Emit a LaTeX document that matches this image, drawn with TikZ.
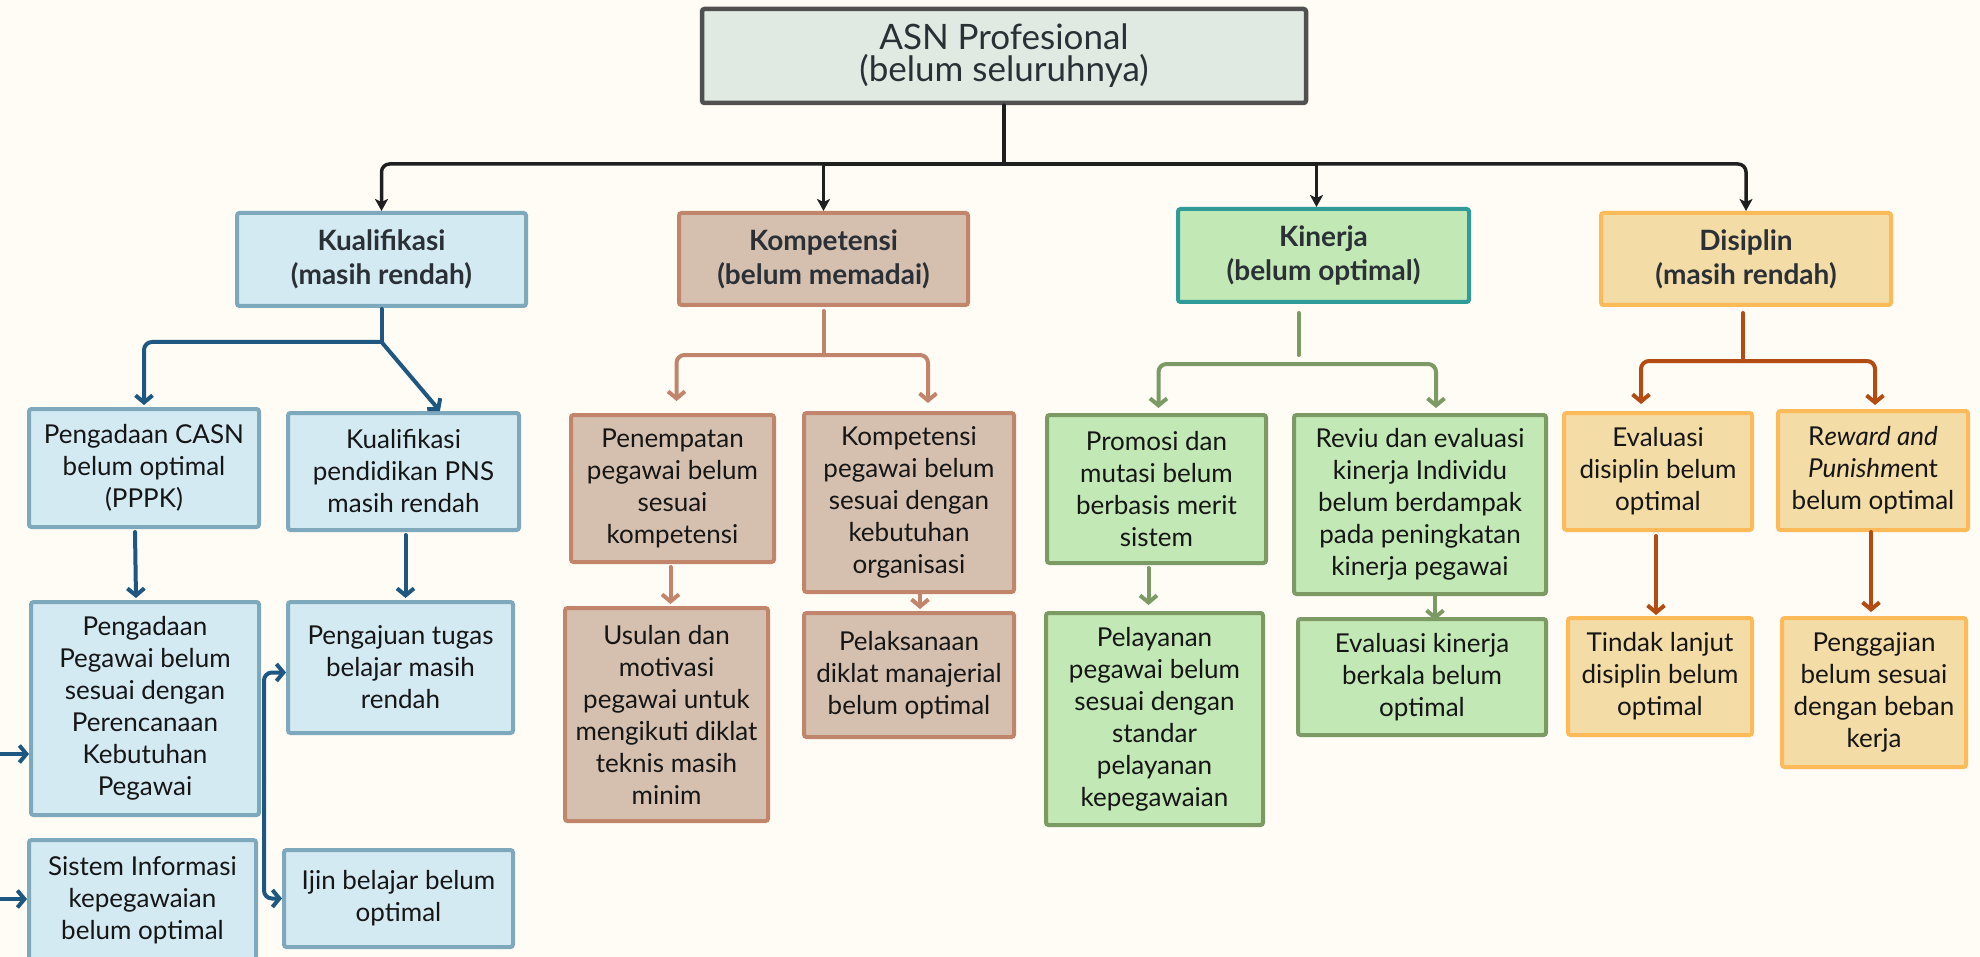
\documentclass[tikz,border=0pt]{standalone}
\usepackage{fontspec}
\setmainfont{Lato}
\usetikzlibrary{arrows.meta,calc}
\definecolor{bg}{HTML}{FFFCF5}
\definecolor{txt}{HTML}{161616}
\definecolor{hdrtxt}{HTML}{2A3036}
\definecolor{rootf}{HTML}{E0EAE2}
\definecolor{rootd}{HTML}{505050}
\definecolor{bluef}{HTML}{D4EAF3}
\definecolor{blued}{HTML}{7EA9BC}
\definecolor{bluea}{HTML}{1E5781}
\definecolor{brnf}{HTML}{D5C0B0}
\definecolor{brnd}{HTML}{C1856B}
\definecolor{grnf}{HTML}{C2E8B5}
\definecolor{teal}{HTML}{2F9C99}
\definecolor{grnd}{HTML}{7C9A64}
\definecolor{yelf}{HTML}{F3DCA6}
\definecolor{yeld}{HTML}{FCBA58}
\definecolor{rust}{HTML}{B24C12}
\newcommand\bx[7]{\node[#2, minimum width={(#5)-(#3)-4}, minimum height={(#6)-(#4)-4}] (#1) at ({((#3)+(#5))/2},{((#4)+(#6))/2}) {#7};}
\tikzset{
  base/.style={draw, line width=4pt, rounded corners=2.5pt, inner sep=0pt, align=center, text=txt, font=\fontsize{26}{32}\selectfont},
  hdr/.style={font=\bfseries\fontsize{28}{34}\selectfont, text=hdrtxt},
  bluebox/.style={base, fill=bluef, draw=blued},
  brnbox/.style={base, fill=brnf, draw=brnd},
  grnbox/.style={base, fill=grnf, draw=grnd},
  yelbox/.style={base, fill=yelf, draw=yeld},
  conn/.style={line width=4pt, line cap=round, line join=round},
  arr/.style={conn, -{Straight Barb[length=7pt,width=17pt]}},
  mainln/.style={conn, line width=3.5pt, draw=black!88},
  mainarr/.style={mainln, -{Stealth[length=12pt,width=13pt,inset=3pt]}},
  bconn/.style={conn, draw=bluea}, barr/.style={arr, draw=bluea},
  rconn/.style={conn, draw=brnd}, rarr/.style={arr, draw=brnd},
  gconn/.style={conn, draw=grnd}, garr/.style={arr, draw=grnd},
  oconn/.style={conn, draw=rust}, oarr/.style={arr, draw=rust},
}
\begin{document}
\begin{tikzpicture}[x=1pt,y=-1pt]
\useasboundingbox[fill=bg] (0,0) rectangle (1980,957);
% root and level 1
\bx{root}{base, fill=rootf, draw=rootd, line width=4.5pt, font=\fontsize{35}{32}\selectfont, text=hdrtxt}{700}{7}{1308}{105}{ASN Profesional\\(belum seluruhnya)}
\bx{kual}{bluebox, hdr}{235}{211}{528}{308}{Kualifikasi\\(masih rendah)}
\bx{komp}{brnbox, hdr}{677}{211}{970}{307}{Kompetensi\\(belum memadai)}
\bx{kin}{grnbox, draw=teal, hdr}{1176}{207}{1471}{304}{Kinerja\\(belum optimal)}
\bx{dis}{yelbox, hdr}{1599}{211}{1893}{307}{Disiplin\\(masih rendah)}
% Kualifikasi group
\bx{casn}{bluebox}{27}{407}{261}{529}{Pengadaan CASN\\belum optimal\\(PPPK)}
\bx{kp}{bluebox}{286}{411}{521}{532}{Kualifikasi\\pendidikan PNS\\masih rendah}
\bx{pp}{bluebox}{29}{600}{261}{817}{Pengadaan\\Pegawai belum\\sesuai dengan\\Perencanaan\\Kebutuhan\\Pegawai}
\bx{pt}{bluebox}{286}{600}{515}{735}{Pengajuan tugas\\belajar masih\\rendah}
\bx{si}{bluebox}{27}{838}{258}{962}{Sistem Informasi\\kepegawaian\\belum optimal}
\bx{ij}{bluebox}{282}{848}{515}{949}{Ijin belajar belum\\optimal}
% Kompetensi group
\bx{pen}{brnbox}{569}{413}{776}{564}{Penempatan\\pegawai belum\\sesuai\\kompetensi}
\bx{kpg}{brnbox}{802}{411}{1016}{594}{Kompetensi\\pegawai belum\\sesuai dengan\\kebutuhan\\organisasi}
\bx{usu}{brnbox}{563}{606}{770}{823}{Usulan dan\\motivasi\\pegawai untuk\\mengikuti diklat\\teknis masih\\minim}
\bx{pel}{brnbox}{802}{611}{1016}{739}{Pelaksanaan\\diklat manajerial\\belum optimal}
% Kinerja group
\bx{pro}{grnbox}{1045}{413}{1268}{565}{Promosi dan\\mutasi belum\\berbasis merit\\sistem}
\bx{rev}{grnbox}{1292}{413}{1548}{596}{Reviu dan evaluasi\\kinerja Individu\\belum berdampak\\pada peningkatan\\kinerja pegawai}
\bx{pla}{grnbox}{1044}{611}{1265}{827}{Pelayanan\\pegawai belum\\sesuai dengan\\standar\\pelayanan\\kepegawaian}
\bx{evk}{grnbox}{1296}{617}{1548}{737}{Evaluasi kinerja\\berkala belum\\optimal}
% Disiplin group
\bx{evd}{yelbox}{1562}{411}{1754}{532}{Evaluasi\\disiplin belum\\optimal}
\bx{rew}{yelbox}{1776}{409}{1970}{532}{R\textit{eward and}\\\textit{Punishm}ent\\belum optimal}
\bx{tin}{yelbox}{1566}{616}{1754}{737}{Tindak lanjut\\disiplin belum\\optimal}
\bx{peng}{yelbox}{1780}{616}{1968}{769}{Penggajian\\belum sesuai\\dengan beban\\kerja}
% main connectors
\draw[mainln] (root.south) -- (root.south |- 0,164) coordinate (hub);
\draw[mainarr, rounded corners=8] (hub) -| (kual.north);
\draw[mainarr] (hub) -| (komp.north);
\draw[mainarr] (hub) -| ([xshift=-7pt]kin.north);
\draw[mainarr, rounded corners=8] (hub) -| (dis.north);
% Kualifikasi connectors
\draw[bconn] ([yshift=-1pt]kual.south) -- (kual.south |- 0,342) coordinate (kj1);
\draw[barr, rounded corners=8] (kj1) -| ([yshift=2pt]casn.north);
\draw[barr] (kj1) -- ($(kp.north west)!0.655!(kp.north east)$);
\draw[barr] ([xshift=-9pt,yshift=-3pt]casn.south) -- ([xshift=-9pt,yshift=2pt]pp.north);
\draw[barr] ([xshift=2pt,yshift=-3pt]kp.south) -- ([xshift=2pt,yshift=2pt]kp.south |- pt.north);
\coordinate (brx) at (264,780);
\draw[barr, rounded corners=8] (brx) |- ([yshift=-5pt]pt.west);
\draw[barr, rounded corners=8] (brx) |- (ij.west);
\coordinate (l1) at (-5,754);
\coordinate (l2) at (-5,899);
\draw[barr] (l1) -- (l1 -| pp.west);
\draw[barr] (l2) -- (l2 -| si.west);
% Kompetensi connectors
\draw[rconn] ([yshift=-4pt]komp.south) -- (komp.south |- 0,355) coordinate (kj2);
\draw[rarr, rounded corners=8] (kj2) -| ([xshift=4pt,yshift=12pt]pen.north);
\draw[rarr, rounded corners=8] (kj2) -| ([xshift=19pt,yshift=8pt]kpg.north);
\draw[rarr] ([xshift=-2pt,yshift=-3pt]pen.south) -- ([xshift=-2pt,yshift=2pt]pen.south |- usu.north);
\draw[rarr] ([xshift=11pt]kpg.south) -- ([xshift=11pt,yshift=2pt]kpg.south |- pel.north);
% Kinerja connectors
\draw[gconn] ([xshift=-25pt,yshift=-9pt]kin.south) -- ([xshift=-25pt]kin.south |- 0,355);
\coordinate (kj3) at (1298,364);
\draw[garr, rounded corners=8] (kj3) -| ([xshift=2pt,yshift=5pt]pro.north);
\draw[garr, rounded corners=8] (kj3) -| ([xshift=16pt,yshift=5pt]rev.north);
\draw[garr] ([xshift=-8pt,yshift=-3pt]pro.south) -- ([xshift=-8pt,yshift=6pt]pro.south |- pla.north);
\draw[garr] ([xshift=15pt]rev.south) -- ([xshift=15pt,yshift=-3pt]rev.south |- evk.north);
% Disiplin connectors
\draw[oconn] ([xshift=-3pt,yshift=-6pt]dis.south) -- ([xshift=-3pt]dis.south |- 0,361) coordinate (kj4);
\draw[oarr, rounded corners=8] (kj4) -| ([xshift=-17pt,yshift=7pt]evd.north);
\draw[oarr, rounded corners=8] (kj4) -| ([xshift=2pt,yshift=4pt]rew.north);
\draw[oarr] ([xshift=-2pt,yshift=-4pt]evd.south) -- ([xshift=-2pt,yshift=1pt]evd.south |- tin.north);
\draw[oarr] ([xshift=-2pt]rew.south) -- ([xshift=-2pt,yshift=4pt]rew.south |- peng.north);
\end{tikzpicture}
\end{document}
